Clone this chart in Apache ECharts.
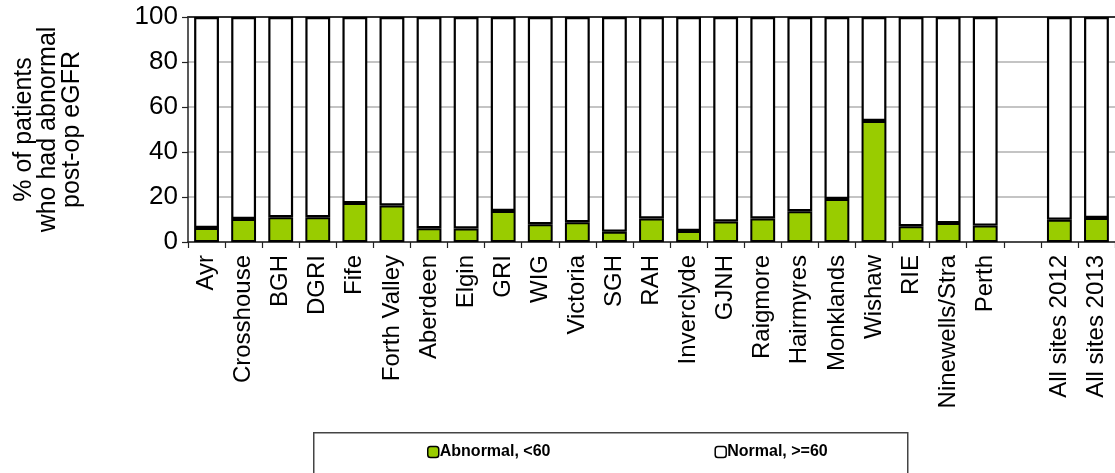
<!DOCTYPE html>
<html>
<head>
<meta charset="utf-8">
<script src="https://cdn.jsdelivr.net/npm/echarts@6/dist/echarts.min.js"></script>
<style>
html,body{margin:0;padding:0;background:#fff;}
#chart{width:1115px;height:473px;}
</style>
</head>
<body>
<div id="chart"></div>
<script>
const categories = ['Ayr','Crosshouse','BGH','DGRI','Fife','Forth Valley','Aberdeen','Elgin','GRI','WIG','Victoria','SGH','RAH','Inverclyde','GJNH','Raigmore','Hairmyres','Monklands','Wishaw','RIE','Ninewells/Stra','Perth','','All sites 2012','All sites 2013'];
const abnormal = [6.2,10.2,11,11,17.3,16.2,6.1,6,13.8,7.9,8.8,4.6,10.5,4.9,9.1,10.5,13.7,19.1,53.8,7,8.4,7.3,null,9.9,10.7];
const normal = [93.8,89.8,89,89,82.7,83.8,93.9,94,86.2,92.1,91.2,95.4,89.5,95.1,90.9,89.5,86.3,80.9,46.2,93,91.6,92.7,null,90.1,89.3];
const yTicks = [0,20,40,60,80,100];
const seriesNames = ['Abnormal, <60','Normal, >=60'];
const yTitle = '% of patients\nwho had abnormal\npost-op eGFR';

const FONT = "'Liberation Sans', Arial, sans-serif";
const chart = echarts.init(document.getElementById('chart'), null, {renderer:'canvas'});
chart.setOption({
  animation:false,
  backgroundColor:'#fff',
  textStyle:{fontFamily:FONT, color:'#000'},
  grid:{left:188, top:17, width:931, height:225, containLabel:false},
  graphic:[{type:'rect', left:313, top:432, shape:{width:594, height:60}, style:{fill:'#fff', stroke:'#444', lineWidth:1.5}, z:0}],
  legend:{
    left:422, top:439, itemWidth:11, itemHeight:11, itemGap:164, z:5,
    data:seriesNames,
    itemStyle:{borderColor:'#000', borderWidth:1.5},
    textStyle:{fontFamily:FONT, fontSize:16, fontWeight:'bold', color:'#000', padding:[0,0,0,-4]}
  },
  xAxis:[{
    type:'category', data:categories,
    axisLine:{lineStyle:{color:'#222', width:1.5}},
    axisTick:{show:true, length:6, lineStyle:{color:'#222', width:1.2}},
    axisLabel:{interval:0, rotate:90, fontSize:24, color:'#000', fontFamily:FONT, margin:13}
  },{
    type:'category', position:'top', data:categories,
    axisLine:{show:true, lineStyle:{color:'#333', width:2}},
    axisTick:{show:false}, axisLabel:{show:false}
  }],
  yAxis:{
    type:'value', min:yTicks[0], max:yTicks[yTicks.length-1], interval:20,
    name:yTitle, nameLocation:'middle', nameRotate:90, nameGap:104,
    nameTextStyle:{fontSize:25, color:'#000', fontFamily:FONT, lineHeight:24, align:'center'},
    axisLine:{show:true, lineStyle:{color:'#222', width:1.5}},
    axisTick:{show:true, length:6, lineStyle:{color:'#222', width:1.2}},
    axisLabel:{fontSize:26, color:'#000', fontFamily:FONT, margin:10},
    splitLine:{show:true, lineStyle:{color:'#c4c4c4', width:2}}
  },
  series:[{
    name:seriesNames[0], type:'bar', stack:'t', data:abnormal, barWidth:'67%',
    itemStyle:{color:'#99cc00', borderColor:'#000', borderWidth:2}
  },{
    name:seriesNames[1], type:'bar', stack:'t', data:normal, barWidth:'67%',
    itemStyle:{color:'#fff', borderColor:'#000', borderWidth:2.2}
  }]
});
</script>
</body>
</html>
